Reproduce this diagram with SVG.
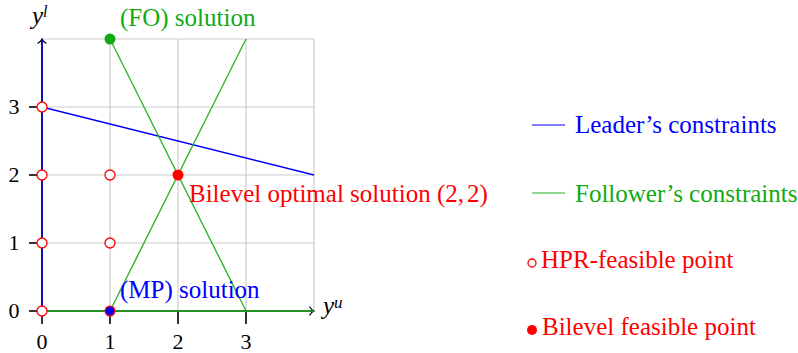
<svg xmlns="http://www.w3.org/2000/svg" width="798" height="353" viewBox="0 0 798 353">
<style>
text{font-family:"Liberation Serif","Times New Roman",serif;font-size:25px}
.tick{font-size:22px;fill:#000}
.grid line{stroke:#cccccc;stroke-width:1.2}
.ax{stroke:#000;stroke-width:1.6}
.blue{stroke:#0000ff;stroke-width:1.3;fill:none}
.green{stroke:#22b022;stroke-width:1.3;fill:none}
.hpr{fill:#fff;stroke:#ff0000;stroke-width:1.3}
.bil{fill:#ff0000}
.it{font-style:italic}
</style>
<rect width="798" height="353" fill="#fff"/>
<g id="grid" class="grid">
<line x1="42" y1="39" x2="42" y2="311"/><line x1="110" y1="39" x2="110" y2="311"/>
<line x1="178" y1="39" x2="178" y2="311"/><line x1="246" y1="39" x2="246" y2="311"/>
<line x1="314" y1="39" x2="314" y2="311"/>
<line x1="42" y1="39" x2="314" y2="39"/><line x1="42" y1="107" x2="314" y2="107"/>
<line x1="42" y1="175" x2="314" y2="175"/><line x1="42" y1="243" x2="314" y2="243"/>
<line x1="42" y1="311" x2="314" y2="311"/>
</g>
<g id="axes">
<line class="ax" x1="42" y1="311" x2="314" y2="311"/>
<line class="ax" x1="42" y1="311" x2="42" y2="39"/>
<path d="M309.5,306.5 Q311.5,310 314,311 Q311.5,312 309.5,315.5" fill="none" stroke="#000" stroke-width="1.2"/>
<path d="M37.5,43.5 Q41,41.5 42,39 Q43,41.5 46.5,43.5" fill="none" stroke="#000" stroke-width="1.2"/>
<g class="ax">
<line x1="42" y1="311" x2="42" y2="324"/><line x1="110" y1="311" x2="110" y2="324"/>
<line x1="178" y1="311" x2="178" y2="324"/><line x1="246" y1="311" x2="246" y2="324"/>
<line x1="29" y1="311" x2="42" y2="311"/><line x1="29" y1="243" x2="42" y2="243"/>
<line x1="29" y1="175" x2="42" y2="175"/><line x1="29" y1="107" x2="42" y2="107"/>
</g>
<g class="tick" text-anchor="middle">
<text class="tick" x="42" y="349">0</text><text class="tick" x="110" y="349">1</text>
<text class="tick" x="178" y="349">2</text><text class="tick" x="246" y="349">3</text>
<text class="tick" x="14" y="318">0</text><text class="tick" x="14" y="250">1</text>
<text class="tick" x="14" y="182">2</text><text class="tick" x="14" y="114">3</text>
</g>
<text x="32" y="24" class="it">y<tspan font-size="16" dy="-7">l</tspan></text>
<text x="323" y="314" class="it">y<tspan font-size="17" dy="-6">u</tspan></text>
</g>
<g id="connectors">
<line class="blue" x1="42" y1="311" x2="42" y2="39"/>
<line class="blue" x1="42" y1="107" x2="314" y2="175"/>
<line class="green" x1="42" y1="311" x2="314" y2="311"/>
<line class="green" x1="110" y1="39" x2="246" y2="311"/>
<line class="green" x1="110" y1="311" x2="246" y2="39"/>
</g>
<g id="hpr-points">
<circle class="hpr" cx="42" cy="311" r="5"/><circle class="hpr" cx="42" cy="243" r="5"/>
<circle class="hpr" cx="42" cy="175" r="5"/><circle class="hpr" cx="42" cy="107" r="5"/>
<circle class="hpr" cx="110" cy="243" r="5"/><circle class="hpr" cx="110" cy="175" r="5"/>
</g>
<g id="fo-solution">
<circle cx="110" cy="39" r="5.5" fill="#11aa11"/>
<text x="120" y="26" fill="#11aa11">(FO) solution</text>
</g>
<g id="bilevel-optimal">
<circle cx="178" cy="175" r="5.5" class="bil"/>
<text x="189" y="202" fill="#ff0000">Bilevel optimal solution (2,<tspan dx="3">2)</tspan></text>
</g>
<g id="mp-solution">
<circle cx="110" cy="311" r="5.5" fill="#ff0000"/>
<circle cx="110" cy="311" r="4.3" fill="#0000ff"/>
<text x="120" y="298" fill="#0000ff">(MP) solution</text>
</g>
<g id="legend">
<line x1="532" y1="125" x2="565" y2="125" stroke="#0000ff" stroke-width="1.2"/>
<text x="575" y="133" fill="#0000ff">Leader’s constraints</text>
<line x1="532" y1="193" x2="565" y2="193" stroke="#22b022" stroke-width="1.2"/>
<text x="575" y="202" fill="#11aa11">Follower’s constraints</text>
<circle class="hpr" cx="532" cy="263" r="4"/>
<text x="541" y="268" fill="#ff0000">HPR-feasible point</text>
<circle class="bil" cx="532" cy="330" r="5"/>
<text x="542" y="335" fill="#ff0000">Bilevel feasible point</text>
</g>
</svg>
